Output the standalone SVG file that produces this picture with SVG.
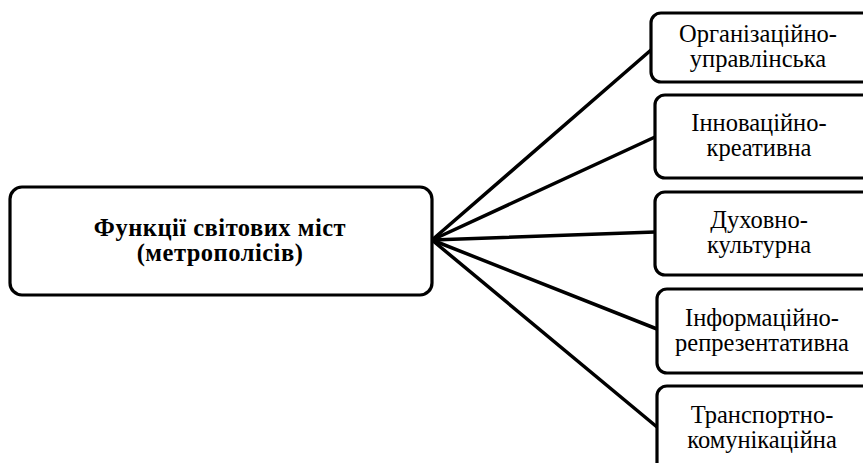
<svg xmlns="http://www.w3.org/2000/svg" width="863" height="463" viewBox="0 0 863 463">
<style>
.box{fill:#fff;stroke:#000;stroke-width:3.2}
.edge{stroke:#000;stroke-width:3.5;fill:none;stroke-linecap:round}
.t{font-family:"Liberation Serif","Times New Roman","DejaVu Serif",serif;font-size:24.5px;fill:#000;text-anchor:middle}
.b{font-weight:bold;letter-spacing:0.5px}
</style>
<rect width="863" height="463" fill="#fff"/>
<g id="connectors">
<line class="edge" x1="432" y1="240" x2="651" y2="50"/>
<line class="edge" x1="432" y1="240" x2="655" y2="137"/>
<line class="edge" x1="432" y1="240" x2="655" y2="232"/>
<line class="edge" x1="432" y1="240" x2="657" y2="329"/>
<line class="edge" x1="432" y1="240" x2="657" y2="427"/>
</g>
<g id="main">
<rect class="box" x="10" y="187" width="422" height="108" rx="12"/>
<text class="t b" x="220" y="236">Функції світових міст</text>
<text class="t b" x="220" y="261">(метрополісів)</text>
</g>
<g id="n1">
<rect class="box" x="651" y="13" width="230" height="69" rx="10"/>
<text class="t" x="758" y="42">Організаційно-</text>
<text class="t" x="758" y="67">управлінська</text>
</g>
<g id="n2">
<rect class="box" x="655" y="95" width="230" height="83" rx="10"/>
<text class="t" x="759" y="131">Інноваційно-</text>
<text class="t" x="759" y="156">креативна</text>
</g>
<g id="n3">
<rect class="box" x="655" y="192" width="230" height="83" rx="10"/>
<text class="t" x="759" y="228">Духовно-</text>
<text class="t" x="759" y="253">культурна</text>
</g>
<g id="n4">
<rect class="box" x="657" y="289" width="230" height="84" rx="10"/>
<text class="t" x="762" y="326">Інформаційно-</text>
<text class="t" x="762" y="351">репрезентативна</text>
</g>
<g id="n5">
<rect class="box" x="657" y="386" width="230" height="90" rx="10"/>
<text class="t" x="762" y="423">Транспортно-</text>
<text class="t" x="762" y="448">комунікаційна</text>
</g>
</svg>
